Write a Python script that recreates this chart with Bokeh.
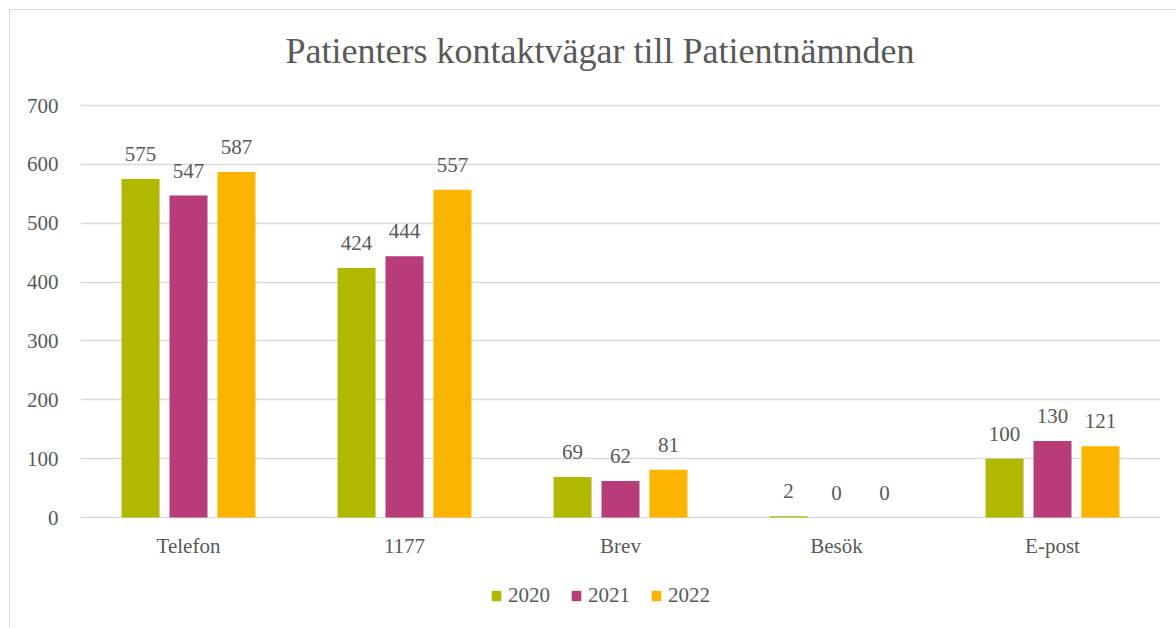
from bokeh.plotting import figure
from bokeh.models import ColumnDataSource, FactorRange, Range1d, LabelSet, Label, Legend, LegendItem
from bokeh.transform import dodge
from bokeh.embed import file_html
from bokeh.resources import INLINE
from bokeh.core.properties import value

categories = ["Telefon", "1177", "Brev", "Besök", "E-post"]
years = ["2020", "2021", "2022"]
v2020 = [575, 424, 69, 2, 100]
v2021 = [547, 444, 62, 0, 130]
v2022 = [587, 557, 81, 0, 121]
colors = ["#b0b800", "#b83b7a", "#fbb500"]
y_ticks = [0, 100, 200, 300, 400, 500, 600, 700]
title_text = "Patienters kontaktvägar till Patientnämnden"

FONT = "Liberation Serif"
TXT = "#595959"
FS = "21px"

src = ColumnDataSource(dict(cat=categories, y2020=v2020, y2021=v2021, y2022=v2022,
                            base=[0] * len(categories),
                            l2020=[str(v) for v in v2020],
                            l2021=[str(v) for v in v2021],
                            l2022=[str(v) for v in v2022]))

W, H = 1166, 618
TOP, BOTTOM_ZERO = 95, 507          # pixel rows (figure coords) of 700 and 0
y_max = 700
px_per_unit = (BOTTOM_ZERO - TOP) / y_max
y_lo = -(H - BOTTOM_ZERO) / px_per_unit
y_hi = y_max + TOP / px_per_unit

p = figure(width=W, height=H, x_range=FactorRange(*categories, range_padding=0),
           y_range=Range1d(y_lo, y_hi), output_backend="svg", toolbar_location=None,
           min_border_left=70, min_border_right=16, min_border_top=0, min_border_bottom=0)
p.styles = {"margin-left": "9px", "margin-top": "9px",
            "border-left": "1px solid #d9d9d9", "border-top": "1px solid #d9d9d9"}
p.outline_line_color = None

# title placed inside the (extended) frame
title = Label(x=519.5, x_units="screen", y=y_max + (TOP - 40) / px_per_unit, y_units="data",
              text=title_text, text_align="center", text_baseline="alphabetic",
              text_font=FONT, text_font_size="36px", text_color=TXT)
p.add_layout(title)

offsets = [-0.222, 0.0, 0.222]
cols = ["y2020", "y2021", "y2022"]
labs = ["l2020", "l2021", "l2022"]
items = []
for off, c, lab, col, yr in zip(offsets, cols, labs, colors, years):
    r = p.vbar(x=dodge("cat", off, range=p.x_range), top=c, width=0.176, source=src,
               fill_color=col, line_color=None)
    items.append(LegendItem(label=yr, renderers=[r]))
    ls = LabelSet(x=dodge("cat", off, range=p.x_range), y=c, text=lab, source=src,
                  text_align="center", text_baseline="alphabetic", y_offset=18,
                  text_font=value(FONT), text_font_size=FS, text_color=TXT)
    p.add_layout(ls)

# category labels under the zero line
cat_labels = LabelSet(x="cat", y="base", text="cat", source=src, text_align="center",
                      text_baseline="alphabetic", y_offset=-35, text_font=value(FONT),
                      text_font_size=FS, text_color=TXT)
p.add_layout(cat_labels)
p.xaxis.visible = False

p.yaxis.ticker = y_ticks
p.yaxis.axis_line_color = None
p.yaxis.major_tick_line_color = None
p.yaxis.minor_tick_line_color = None
p.yaxis.major_label_standoff = 16
p.yaxis.major_label_text_font = FONT
p.yaxis.major_label_text_font_size = FS
p.yaxis.major_label_text_color = TXT

p.xgrid.grid_line_color = None
p.ygrid.ticker = y_ticks
p.ygrid.grid_line_color = "#d9d9d9"
p.ygrid.grid_line_width = 1.5

legend = Legend(items=items, orientation="horizontal", location=(410, 20),
                glyph_width=12, glyph_height=13, label_standoff=6, spacing=20,
                label_text_font=FONT, label_text_font_size=FS, label_text_color=TXT,
                border_line_color=None, background_fill_alpha=0, padding=0, margin=0)
p.add_layout(legend)

open("out.html", "w").write(file_html(p, INLINE))
